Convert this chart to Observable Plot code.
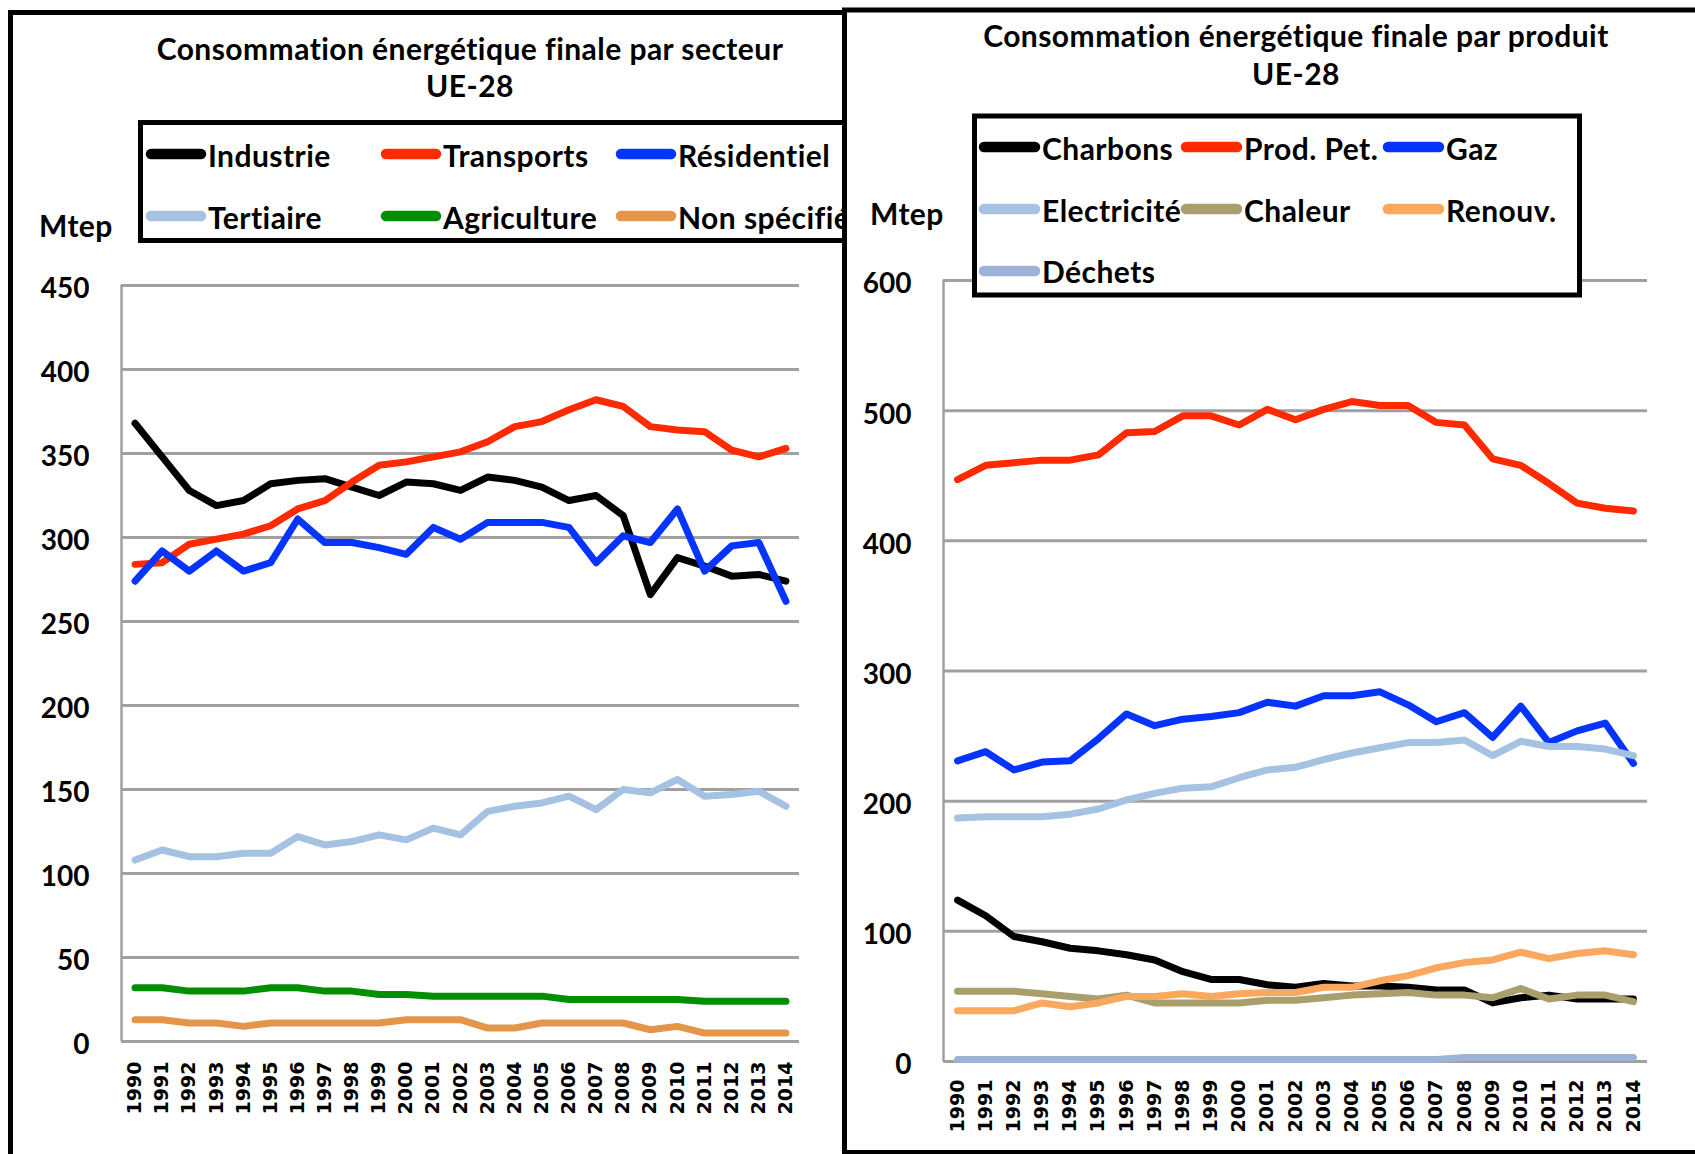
<!DOCTYPE html>
<html><head><meta charset="utf-8">
<script src="https://cdn.jsdelivr.net/npm/d3@7"></script>
<script src="https://cdn.jsdelivr.net/npm/@observablehq/plot@0.6"></script>
<style>
html,body{margin:0;padding:0;background:#fff;}
body{width:1695px;height:1154px;overflow:hidden;position:relative;}
.layer{position:absolute;left:0;top:0;}
.plotwrap{position:absolute;}
.layer text{font-family:Lato,"Open Sans",sans-serif;font-weight:bold;letter-spacing:0.45px;}
</style>
</head><body>
<script>
// ---------- DATA ----------
const years = [1990,1991,1992,1993,1994,1995,1996,1997,1998,1999,2000,2001,2002,2003,2004,2005,2006,2007,2008,2009,2010,2011,2012,2013,2014];

// Left chart: par secteur (Mtep)
const industrie   = [368,348,328,319,322,332,334,335,330,325,333,332,328,336,334,330,322,325,313,266,288,283,277,278,274];
const transports  = [284,285,296,299,302,307,317,322,333,343,345,348,351,357,366,369,376,382,378,366,364,363,352,348,353];
const residentiel = [274,292,280,292,280,285,311,297,297,294,290,306,299,309,309,309,306,285,301,297,317,280,295,297,262];
const tertiaire   = [108,114,110,110,112,112,122,117,119,123,120,127,123,137,140,142,146,138,150,148,156,146,147,149,140];
const agriculture = [32,32,30,30,30,32,32,30,30,28,28,27,27,27,27,27,25,25,25,25,25,24,24,24,24];
const nonSpecifie = [13,13,11,11,9,11,11,11,11,11,13,13,13,8,8,11,11,11,11,7,9,5,5,5,5];

// Right chart: par produit (Mtep)
const charbons    = [124,112,96,92,87,85,82,78,69,63,63,59,57,60,58,58,57,55,55,45,49,51,48,48,48];
const prodPet     = [447,458,460,462,462,466,483,484,496,496,489,501,493,501,507,504,504,491,489,463,458,444,429,425,423];
const gaz         = [231,238,224,230,231,248,267,258,263,265,268,276,273,281,281,284,274,261,268,249,273,245,254,260,229];
const electricite = [187,188,188,188,190,194,201,206,210,211,218,224,226,232,237,241,245,245,247,235,246,242,242,240,235];
const chaleur     = [54,54,54,52,50,48,51,45,45,45,45,47,47,49,51,52,53,51,51,49,56,48,51,51,46];
const renouv      = [39,39,39,45,42,45,50,50,52,50,52,53,53,57,57,62,66,72,76,78,84,79,83,85,82];
const dechets     = [1.5,1.5,1.5,1.5,1.5,1.5,1.5,1.5,1.5,1.5,1.5,1.5,1.5,1.5,1.5,1.5,1.5,1.5,3,3,3,3,3,3,3];

const leftNames  = ["Industrie","Transports","Résidentiel","Tertiaire","Agriculture","Non spécifié"];
const leftValues = [industrie, transports, residentiel, tertiaire, agriculture, nonSpecifie];
const leftColors = ["#000000","#ff2a00","#0533ff","#a6c2e2","#008f00","#e5954a"];

const rightNames  = ["Charbons","Prod. Pet.","Gaz","Electricité","Chaleur","Renouv.","Déchets"];
const rightValues = [charbons, prodPet, gaz, electricite, chaleur, renouv, dechets];
const rightColors = ["#000000","#ff2a00","#0533ff","#a6c2e2","#a89f6c","#faa85e","#9cb2d6"];

const leftTicks  = [0,50,100,150,200,250,300,350,400,450];
const rightTicks = [0,100,200,300,400,500,600];

const leftTitle  = ["Consommation énergétique finale par secteur", "UE-28"];
const rightTitle = ["Consommation énergétique finale par produit", "UE-28"];
const unitLabel  = "Mtep";

// ---------- HELPERS ----------
const NS = "http://www.w3.org/2000/svg";
function layer(z, w=1695, h=1154){
  const s = document.createElementNS(NS,"svg");
  s.setAttribute("width",w); s.setAttribute("height",h);
  s.setAttribute("class","layer"); s.style.zIndex = z;
  document.body.appendChild(s); return s;
}
function el(parent, tag, attrs, txt){
  const e = document.createElementNS(NS,tag);
  for (const k in attrs) e.setAttribute(k, attrs[k]);
  if (txt != null) e.textContent = txt;
  parent.appendChild(e); return e;
}
function buildPlot(names, values, colors, o){
  const data = [];
  names.forEach((n,k)=> values[k].forEach((v,i)=> data.push({name:n, year:years[i], value:v})));
  const p = Plot.plot({
    width:o.width, height:o.height,
    marginLeft:o.ml, marginRight:o.mr, marginTop:o.mt, marginBottom:o.mb,
    style:{background:"transparent", overflow:"visible"},
    x:{domain:[1989.5, 2014.5]},
    y:{domain:[0, o.yMax]},
    marks:[
      Plot.ruleY(o.ticks, {stroke:"#a0a0a0", strokeWidth:3}),
      Plot.ruleX([1989.5], {stroke:"#a0a0a0", strokeWidth:2.5}),
      ...names.map((n,k)=> Plot.line(data.filter(d=>d.name===n), {x:"year", y:"value", stroke:colors[k], strokeWidth:7, strokeLinejoin:"round", strokeLinecap:"round"})),
      Plot.axisY({ticks:o.ticks, tickSize:0, tickPadding:o.tpy, label:null, fontSize:28, fontWeight:"bold", fontFamily:"Lato", dy:4}),
      Plot.axisX({ticks:years, tickFormat:d=>String(d), tickRotate:-90, tickSize:0, tickPadding:o.tpx, label:null, fontSize:19, fontWeight:"bold", fontFamily:"DejaVu Sans"})
    ]
  });
  const wrap = document.createElement("div");
  wrap.className = "plotwrap";
  wrap.style.left = o.left+"px"; wrap.style.top = o.top+"px"; wrap.style.zIndex = o.z;
  wrap.appendChild(p); document.body.appendChild(wrap);
}
function legend(svg, names, colors, cols, rows, swLen, fs){
  names.forEach((n,k)=>{
    const c = k % cols.length, r = Math.floor(k / cols.length);
    const x0 = cols[c], yc = rows[r].sw, yb = rows[r].base;
    el(svg,"line",{x1:x0+5, x2:x0+swLen-5, y1:yc, y2:yc, stroke:colors[k], "stroke-width":10.5, "stroke-linecap":"round"});
    el(svg,"text",{x:x0+swLen+2, y:yb, "font-size":fs, fill:"#000"}, n);
  });
}

// ---------- LEFT PANEL ----------
const L = layer(1);
el(L,"rect",{x:10.5, y:12.5, width:1000, height:1300, fill:"#fff", stroke:"#000", "stroke-width":5});
el(L,"text",{x:470, y:60, "text-anchor":"middle", "font-size":30}, leftTitle[0]);
el(L,"text",{x:470, y:97, "text-anchor":"middle", "font-size":30}, leftTitle[1]);
el(L,"rect",{x:140.5, y:122.5, width:900, height:118, fill:"#fff", stroke:"#000", "stroke-width":5});
legend(L, leftNames, leftColors, [146, 381, 616], [{sw:154, base:167},{sw:216, base:229}], 60, 30);
el(L,"text",{x:39, y:237, "font-size":30}, unitLabel);

buildPlot(leftNames, leftValues, leftColors, {left:11, top:250, width:800, height:900, ml:110, mr:12, mt:35, mb:109, yMax:450, ticks:leftTicks, tpy:32, tpx:20, z:2});

// ---------- RIGHT PANEL ----------
const R = layer(3);
el(R,"rect",{x:844.5, y:10, width:1000, height:1142.5, fill:"#fff", stroke:"#000", "stroke-width":5});
el(R,"text",{x:1296, y:47, "text-anchor":"middle", "font-size":30}, rightTitle[0]);
el(R,"text",{x:1296, y:85, "text-anchor":"middle", "font-size":30}, rightTitle[1]);
el(R,"text",{x:870, y:225, "font-size":30}, unitLabel);

buildPlot(rightNames, rightValues, rightColors, {left:847, top:250, width:810, height:890, ml:96, mr:10, mt:30, mb:79, yMax:600, ticks:rightTicks, tpy:32, tpx:18, z:4});

const RL = layer(5);
el(RL,"rect",{x:974.5, y:116, width:605, height:179, fill:"#fff", stroke:"#000", "stroke-width":5});
legend(RL, rightNames, rightColors, [979, 1181, 1383], [{sw:147, base:160},{sw:209, base:222},{sw:271, base:283}], 61, 30);
</script>
</body></html>
